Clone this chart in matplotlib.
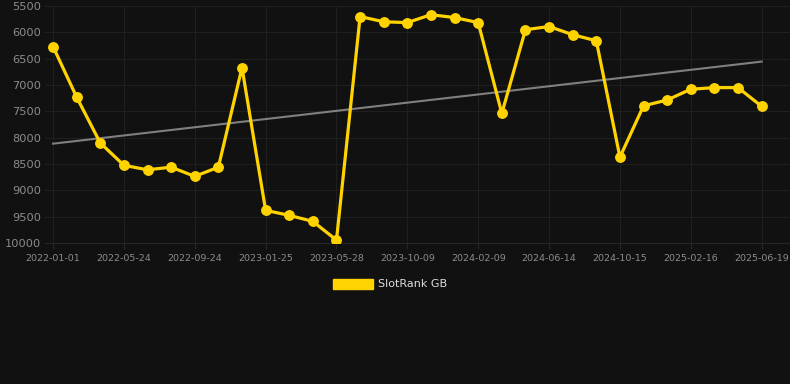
#SlotRank GB rank over time, dark theme with a linear trend line

import numpy as np
import matplotlib
matplotlib.use("Agg")
import matplotlib.pyplot as plt
from matplotlib.patches import Patch

#data (rank, lower is better, axis inverted)
ranks = [6270, 7230, 8100, 8525, 8610, 8560, 8735, 8560, 6670, 9380,
         9475, 9590, 9945, 5700, 5800, 5815, 5665, 5720, 5815, 7540,
         5950, 5890, 6045, 6160, 8370, 7395, 7285, 7080, 7050, 7050,
         7405]
tick_labels = ["2022-01-01", "2022-05-24", "2022-09-24", "2023-01-25",
               "2023-05-28", "2023-10-09", "2024-02-09", "2024-06-14",
               "2024-10-15", "2025-02-16", "2025-06-19"]
y_ticks = [5500, 6000, 6500, 7000, 7500, 8000, 8500, 9000, 9500, 10000]

bg = "#111111"
gold = "#FFD300"

fig = plt.figure(figsize=(7.9, 3.84), dpi=100, facecolor=bg)
ax = fig.add_axes([45 / 790, 1 - 243 / 384, 745 / 790, 237 / 384])
ax.set_facecolor(bg)

x = np.arange(len(ranks))

#trend line from a least squares fit of the ranks
slope, intercept = np.polyfit(x, ranks, 1)
ax.plot([x[0], x[-1]], [intercept, intercept + slope * x[-1]],
        color="#808080", linewidth=1.5, zorder=2)

ax.plot(x, ranks, color=gold, linewidth=2.3, marker="o", markersize=6.8,
        zorder=3, label="SlotRank GB")

ax.set_ylim(10000, 5500)
ax.set_xlim(-0.34, 31.2)
ax.set_yticks(y_ticks)
ax.set_xticks(x[::3])
ax.set_xticklabels(tick_labels)

ax.grid(True, color="#1f1f1f", linewidth=0.8)
ax.set_axisbelow(True)
for side in ["top", "right", "left"]:
    ax.spines[side].set_visible(False)
ax.spines["bottom"].set_color("#262626")
ax.tick_params(axis="y", length=0, labelsize=8.2, labelcolor="#8c8c8c", pad=3)
ax.tick_params(axis="x", length=4, color="#262626", labelsize=6.8,
               labelcolor="#8c8c8c", pad=4)

#legend below the plot, a filled box instead of a line sample
leg = fig.legend(handles=[Patch(facecolor=gold, edgecolor=gold, label="SlotRank GB")],
                 loc="center", bbox_to_anchor=(390 / 790, 1 - 284 / 384),
                 frameon=False, fontsize=8, handlelength=3.6, handleheight=1.0,
                 handletextpad=0.5)
for t in leg.get_texts():
    t.set_color("#dddddd")

fig.savefig("out.png", dpi=100, facecolor=bg)
